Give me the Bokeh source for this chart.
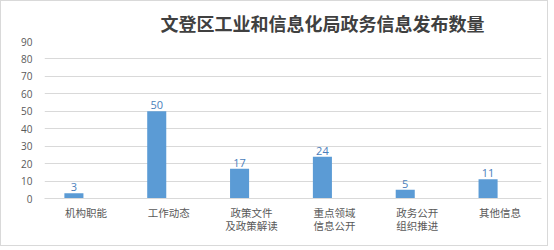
from bokeh.plotting import figure
from bokeh.models import ColumnDataSource, FixedTicker, Range1d, LabelSet
from bokeh.core.properties import value
from bokeh.embed import file_html
from bokeh.resources import INLINE

title_text = "文登区工业和信息化局政务信息发布数量"
categories = ["机构职能", "工作动态", "政策文件\n及政策解读", "重点领域\n信息公开", "政务公开\n组织推进", "其他信息"]
values = [3, 50, 17, 24, 5, 11]
y_ticks = [0, 10, 20, 30, 40, 50, 60, 70, 80, 90]

pos = [i + 0.5 for i in range(len(categories))]
src = ColumnDataSource(dict(x=[p_ - 0.145 for p_ in pos], v=values, t=[str(v) for v in values]))

p = figure(width=548, height=246, output_backend="svg", toolbar_location=None,
           x_range=Range1d(0, len(categories)), y_range=Range1d(0, 90),
           min_border_left=43, min_border_right=8, min_border_top=0, min_border_bottom=49)
p.styles = {"border": "1px solid #d9d9d9"}
p.outline_line_color = None
p.background_fill_color = "white"
p.border_fill_color = "white"

p.title.text = title_text
p.title.align = "left"
p.title.offset = 116
p.title.text_font_size = "18px"
p.title.text_font_style = "bold"
p.title.text_color = "#404040"
p.title.text_font = "Noto Sans CJK SC"
p.title.text_line_height = 0.75
p.title.standoff = 12

p.vbar(x="x", top="v", width=0.23, bottom=0, source=src, fill_color="#5b9bd5", line_color=None)
p.add_layout(LabelSet(x="x", y="v", text="t", source=src, text_align="center", text_baseline="bottom",
                      y_offset=2, text_font_size="11px", text_color="#4a7ebb", text_font=value("Open Sans")))

p.xaxis.ticker = FixedTicker(ticks=pos)
p.xaxis.major_label_overrides = {pp: c for pp, c in zip(pos, categories)}
p.xaxis.major_tick_line_color = None
p.xaxis.minor_tick_line_color = None
p.xaxis.axis_line_color = "#d9d9d9"
p.xaxis.major_label_text_font_size = "10.5px"
p.xaxis.major_label_text_color = "#595959"
p.xaxis.major_label_text_font = "Noto Sans CJK SC"
p.xaxis.major_label_text_line_height = 0.9
p.xaxis.major_label_standoff = 0
p.xgrid.grid_line_color = None

p.yaxis.ticker = FixedTicker(ticks=y_ticks)
p.yaxis.axis_line_color = None
p.yaxis.major_tick_line_color = None
p.yaxis.minor_tick_line_color = None
p.yaxis.major_label_text_font_size = "10px"
p.yaxis.major_label_text_color = "#595959"
p.yaxis.major_label_text_font = "Open Sans"
p.yaxis.major_label_standoff = 6
p.ygrid.grid_line_color = "#d9d9d9"

open("out.html", "w").write(file_html(p, INLINE))
